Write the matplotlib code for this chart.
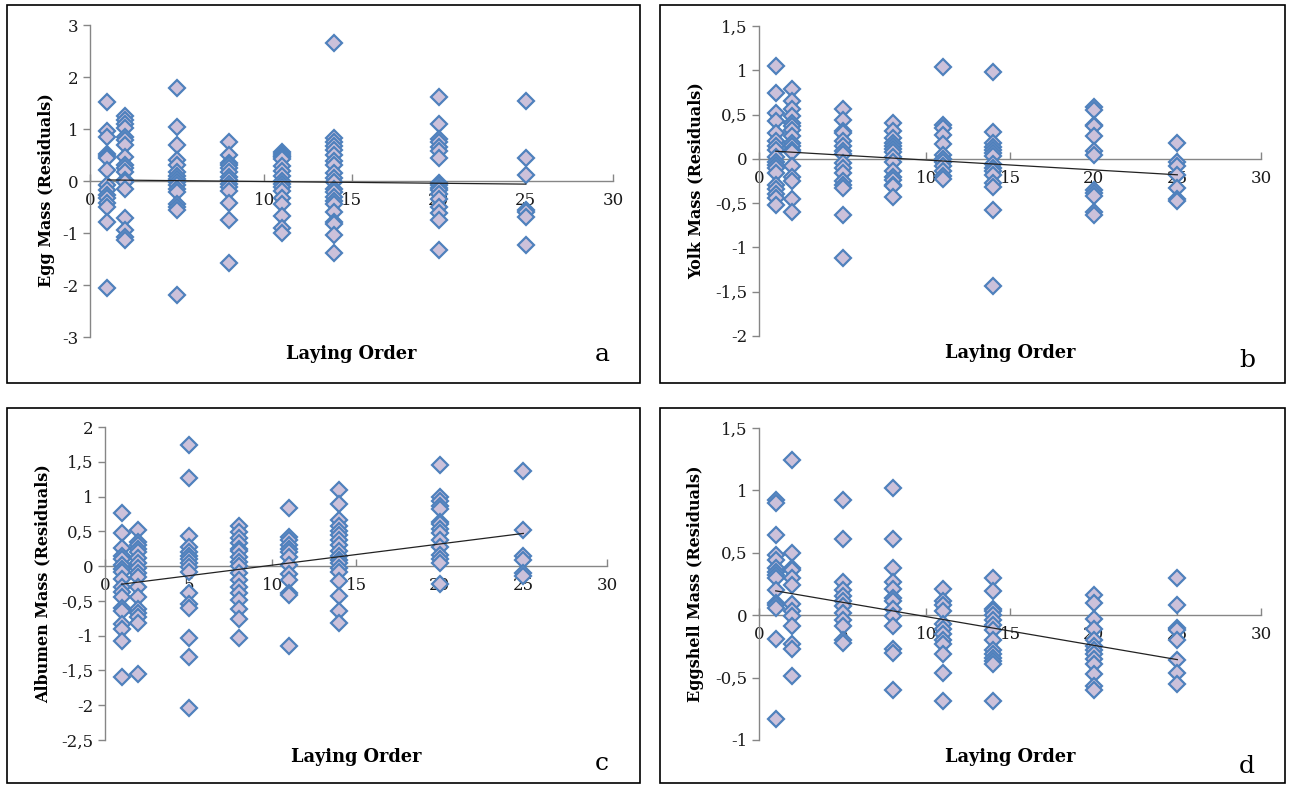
import numpy as np
import matplotlib.pyplot as plt
from matplotlib.patches import Rectangle
from matplotlib.ticker import FuncFormatter, MultipleLocator

plt.rcParams['font.family'] = 'DejaVu Serif'

# laying order of the eggs (x positions of each column of points)
laying_order = [1, 2, 5, 8, 11, 14, 20, 25]

# residuals per laying order, one inner list per entry of laying_order
egg_mass = [
    [1.52, 0.97, 0.84, 0.52, 0.48, 0.44, 0.22, -0.08, -0.18, -0.27, -0.33, -0.42, -0.5, -0.79, -2.05],
    [1.25, 1.18, 1.1, 1.02, 0.85, 0.78, 0.7, 0.47, 0.3, 0.25, 0.18, 0.02, -0.02, -0.15, -0.72, -0.95, -1.08, -1.13],
    [1.78, 1.04, 0.7, 0.4, 0.3, 0.18, 0.1, 0.03, -0.02, -0.08, -0.15, -0.22, -0.45, -0.5, -0.55, -2.2],
    [0.75, 0.5, 0.35, 0.3, 0.25, 0.18, 0.08, 0.02, -0.05, -0.12, -0.2, -0.42, -0.75, -1.58],
    [0.55, 0.52, 0.49, 0.46, 0.42, 0.28, 0.2, 0.1, 0.0, -0.06, -0.12, -0.2, -0.32, -0.45, -0.68, -0.9, -1.0],
    [2.66, 0.82, 0.75, 0.68, 0.6, 0.5, 0.38, 0.3, 0.15, 0.05, -0.02, -0.15, -0.22, -0.3, -0.38, -0.45, -0.6, -0.78, -0.82, -1.03, -1.38],
    [1.62, 1.09, 0.8, 0.75, 0.65, 0.58, 0.44, -0.04, -0.08, -0.13, -0.18, -0.25, -0.35, -0.5, -0.62, -0.75, -1.33],
    [1.53, 0.45, 0.11, -0.55, -0.6, -0.7, -1.24],
]

yolk_mass = [
    [1.05, 0.74, 0.52, 0.43, 0.29, 0.2, 0.15, 0.1, 0.02, -0.03, -0.07, -0.1, -0.16, -0.29, -0.34, -0.4, -0.44, -0.52],
    [0.79, 0.65, 0.56, 0.48, 0.41, 0.37, 0.33, 0.26, 0.18, 0.14, 0.1, 0.08, -0.08, -0.2, -0.25, -0.45, -0.6],
    [0.56, 0.44, 0.31, 0.29, 0.2, 0.14, 0.09, 0.05, -0.05, -0.1, -0.16, -0.25, -0.3, -0.33, -0.63, -1.12],
    [0.4, 0.32, 0.24, 0.18, 0.14, 0.11, 0.08, 0.02, -0.03, -0.14, -0.2, -0.24, -0.29, -0.31, -0.43],
    [1.04, 0.38, 0.35, 0.27, 0.17, 0.04, 0.0, -0.04, -0.08, -0.14, -0.19, -0.23],
    [0.98, 0.3, 0.18, 0.13, 0.1, 0.07, 0.03, -0.06, -0.1, -0.14, -0.18, -0.27, -0.32, -0.58, -1.44],
    [0.58, 0.55, 0.38, 0.37, 0.26, 0.09, 0.04, -0.35, -0.38, -0.42, -0.6, -0.63],
    [0.18, -0.04, -0.08, -0.18, -0.33, -0.45, -0.48],
]

albumen_mass = [
    [0.77, 0.48, 0.26, 0.15, 0.1, 0.02, -0.04, -0.08, -0.18, -0.3, -0.37, -0.44, -0.6, -0.65, -0.83, -0.9, -1.08, -1.6],
    [0.52, 0.35, 0.3, 0.25, 0.2, 0.12, 0.04, -0.03, -0.1, -0.15, -0.3, -0.44, -0.62, -0.68, -0.73, -0.82, -1.55],
    [1.74, 1.27, 0.44, 0.28, 0.2, 0.15, 0.1, 0.05, -0.01, -0.08, -0.38, -0.55, -0.6, -1.04, -1.31, -2.04],
    [0.58, 0.49, 0.4, 0.33, 0.25, 0.22, 0.13, 0.06, 0.0, -0.1, -0.2, -0.3, -0.39, -0.49, -0.62, -0.76, -1.03],
    [0.84, 0.42, 0.37, 0.3, 0.25, 0.2, 0.13, 0.02, -0.12, -0.2, -0.38, -0.42, -1.15],
    [1.09, 0.89, 0.66, 0.57, 0.5, 0.45, 0.38, 0.3, 0.22, 0.15, 0.09, 0.04, -0.02, -0.08, -0.22, -0.43, -0.64, -0.82],
    [1.46, 1.0, 0.93, 0.86, 0.82, 0.64, 0.6, 0.53, 0.47, 0.37, 0.28, 0.16, 0.1, 0.04, -0.25],
    [1.37, 0.52, 0.15, 0.09, -0.1, -0.14],
]

eggshell_mass = [
    [0.92, 0.9, 0.64, 0.48, 0.44, 0.38, 0.35, 0.32, 0.3, 0.2, 0.1, 0.08, 0.06, -0.19, -0.83],
    [1.24, 0.5, 0.38, 0.36, 0.3, 0.24, 0.09, 0.03, -0.01, -0.09, -0.23, -0.27, -0.49],
    [0.92, 0.61, 0.27, 0.2, 0.15, 0.11, 0.07, 0.02, -0.04, -0.09, -0.2, -0.22],
    [1.02, 0.61, 0.38, 0.27, 0.21, 0.14, 0.11, 0.05, -0.01, -0.09, -0.27, -0.3, -0.6],
    [0.21, 0.11, 0.08, 0.03, -0.07, -0.11, -0.15, -0.2, -0.23, -0.31, -0.46, -0.69],
    [0.3, 0.19, 0.05, 0.03, 0.0, -0.04, -0.08, -0.12, -0.2, -0.28, -0.31, -0.34, -0.37, -0.39, -0.69],
    [0.16, 0.1, -0.03, -0.11, -0.2, -0.25, -0.28, -0.31, -0.35, -0.39, -0.47, -0.57, -0.6],
    [0.3, 0.08, -0.1, -0.12, -0.2, -0.36, -0.46, -0.55],
]

# linear trend values at the first and last laying order
trend_egg = [0.02, -0.06]
trend_yolk = [0.086, -0.18]
trend_albumen = [-0.26, 0.47]
trend_eggshell = [0.195, -0.356]

W, H = 1290, 785
fig = plt.figure(figsize=(W / 100, H / 100), dpi=100)

# data, trend, ylabel, letter, ylim, ystep, axes px box, frame px box,
# ylabel position (axes fraction), letter baseline offset from frame bottom
panels = [
    (egg_mass, trend_egg, 'Egg Mass (Residuals)', 'a', (-3, 3), 1,
     (90, 25, 613, 337), (7, 5, 640, 383), (-0.067, 0.47), 22),
    (yolk_mass, trend_yolk, 'Yolk Mass (Residuals)', 'b', (-2, 1.5), 0.5,
     (759, 26, 1261, 336), (660, 5, 1285, 383), (-0.109, 0.5), 16),
    (albumen_mass, trend_albumen, 'Albumen Mass (Residuals)', 'c', (-2.5, 2), 0.5,
     (105, 427, 607, 740), (7, 408, 640, 783), (-0.107, 0.5), 13),
    (eggshell_mass, trend_eggshell, 'Eggshell Mass (Residuals)', 'd', (-1, 1.5), 0.5,
     (759, 428, 1261, 740), (660, 408, 1285, 783), (-0.109, 0.5), 10),
]

comma = FuncFormatter(lambda v, pos: ('%g' % v).replace('.', ','))

for data, trend, ylab, letter, ylim, ystep, box, frame, ylpos, lofs in panels:
    l, t, r, b = box
    ax = fig.add_axes([l / W, 1 - b / H, (r - l) / W, (b - t) / H])

    xs = np.concatenate([[o] * len(v) for o, v in zip(laying_order, data)])
    ys = np.concatenate(data)
    ax.plot(xs, ys, 'D', markersize=8, markerfacecolor='#ccc1da',
            markeredgecolor='#4f81bd', markeredgewidth=1.6, zorder=3)

    ax.plot([laying_order[0], laying_order[-1]], trend,
            color='#222222', linewidth=0.9, zorder=4)

    ax.set_xlim(0, 30)
    ax.set_ylim(*ylim)
    ax.xaxis.set_major_locator(MultipleLocator(5))
    ax.yaxis.set_major_locator(MultipleLocator(ystep))
    ax.yaxis.set_major_formatter(comma)

    for s in ('top', 'right'):
        ax.spines[s].set_visible(False)
    ax.spines['bottom'].set_position(('data', 0))
    for s in ('left', 'bottom'):
        ax.spines[s].set_color('#868686')
        ax.spines[s].set_linewidth(1.0)
    ax.tick_params(colors='#868686', labelcolor='#1a1a1a', labelsize=12, length=5, width=1)
    ax.tick_params(axis='x', direction='in', pad=8)

    ax.set_xlabel('Laying Order', fontsize=12.8, fontweight='bold')
    ax.set_ylabel(ylab, fontsize=11.5, fontweight='bold')
    ax.xaxis.set_label_coords(0.5, -0.026)
    ax.yaxis.set_label_coords(*ylpos)

    fl, ft, fr, fb = frame
    fig.add_artist(Rectangle((fl / W, 1 - fb / H), (fr - fl) / W, (fb - ft) / H,
                             transform=fig.transFigure, fill=False,
                             edgecolor='black', linewidth=1.2))
    fig.text((fr - 38) / W, 1 - (fb - lofs) / H, letter, fontsize=18,
             ha='center', va='baseline')

fig.savefig('out.png', dpi=100)
